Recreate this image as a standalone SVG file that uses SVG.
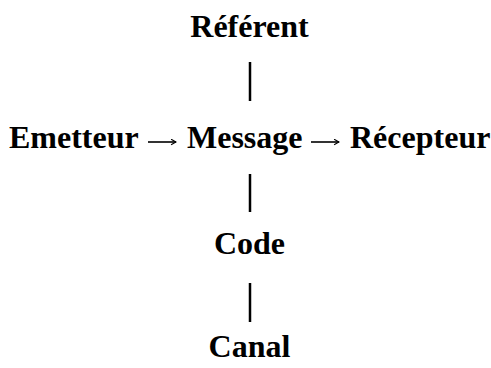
<svg xmlns="http://www.w3.org/2000/svg" width="491" height="368" viewBox="0 0 491 368">
<style>
.t{font-family:"Liberation Serif","Times New Roman",serif;font-weight:bold;font-size:32px;fill:#000}
.bar{stroke:#000;stroke-width:2.5}
.arr{stroke:#000;stroke-width:1.6;fill:none;marker-end:url(#ah)}
</style>
<defs>
<marker id="ah" viewBox="0 0 10 10" refX="9" refY="5" markerWidth="7" markerHeight="7" markerUnits="userSpaceOnUse" orient="auto">
<path d="M2,1 L9,5 L2,9" fill="none" stroke="#000" stroke-width="1.6"/>
</marker>
</defs>
<rect width="491" height="368" fill="#fff"/>
<g id="referent"><text class="t" x="249.5" y="37" text-anchor="middle">Référent</text></g>
<g id="emetteur"><text class="t" x="9" y="148">Emetteur</text></g>
<g id="message"><text class="t" x="187" y="148">Message</text></g>
<g id="recepteur"><text class="t" x="350" y="148">Récepteur</text></g>
<g id="code"><text class="t" x="249.5" y="254" text-anchor="middle">Code</text></g>
<g id="canal"><text class="t" x="249.5" y="357" text-anchor="middle">Canal</text></g>
<g id="connectors">
<line class="bar" x1="250" y1="62" x2="250" y2="101"/>
<line class="bar" x1="250" y1="174" x2="250" y2="212"/>
<line class="bar" x1="250" y1="283" x2="250" y2="322"/>
<line class="arr" x1="148" y1="142" x2="176" y2="142"/>
<line class="arr" x1="311" y1="142" x2="339" y2="142"/>
</g>
</svg>
